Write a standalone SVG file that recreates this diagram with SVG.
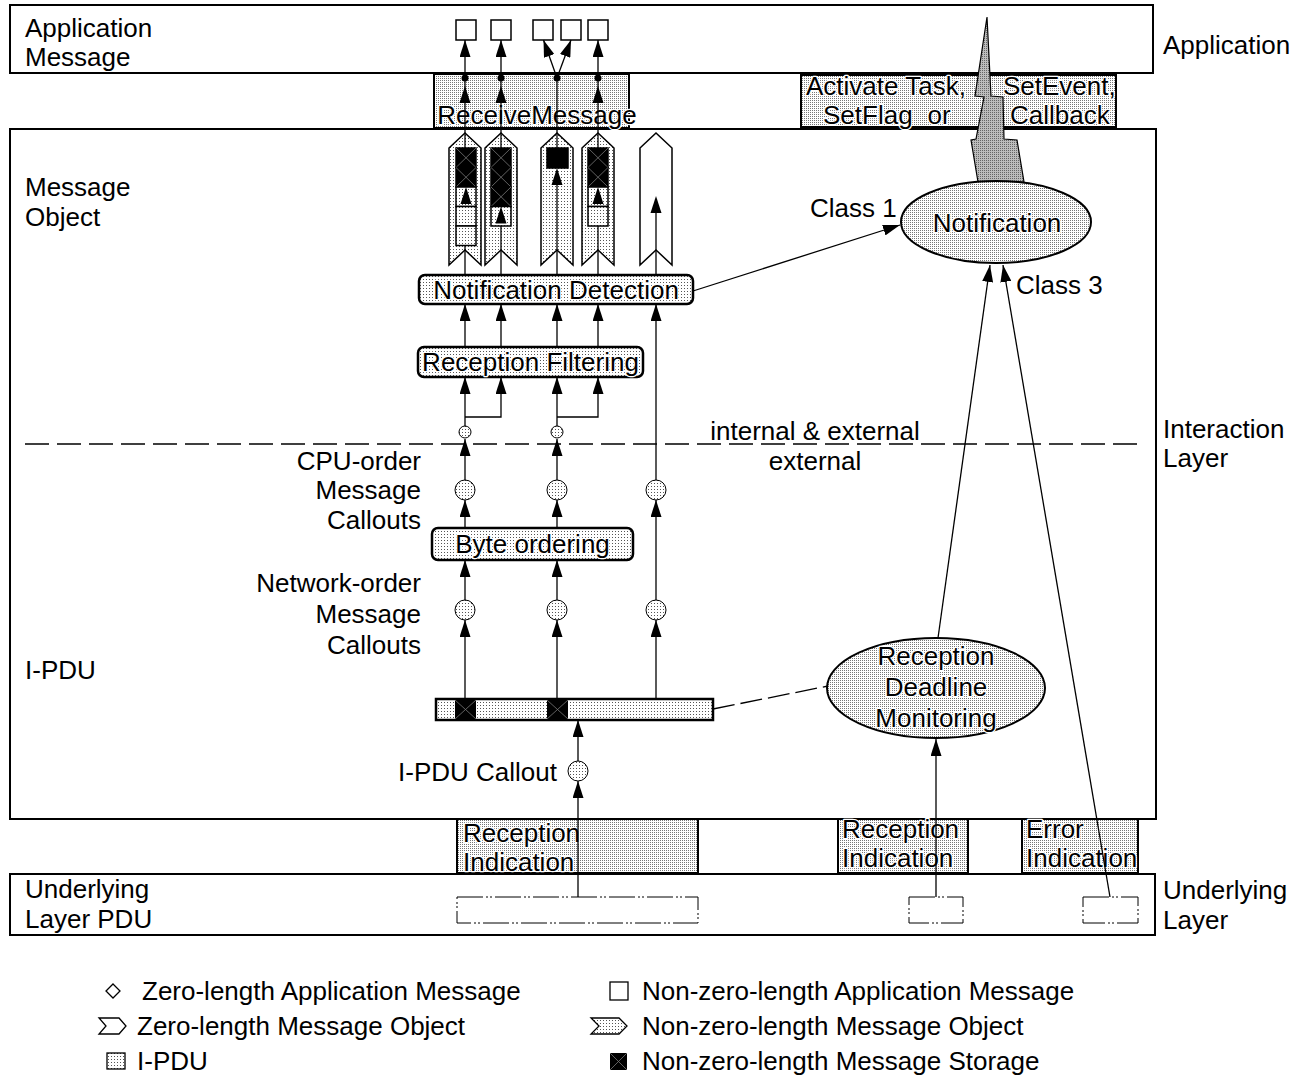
<svg xmlns="http://www.w3.org/2000/svg" xmlns:xlink="http://www.w3.org/1999/xlink" width="1300" height="1077" viewBox="0 0 1300 1077">
  <style>
    text { font-family: "Liberation Sans", Arial, sans-serif; font-size: 26px; fill: #000; }
    .ko { paint-order: stroke; stroke: #fff; stroke-width: 2.5px; stroke-linejoin: round; }
    .mid { text-anchor: middle; }
    .end { text-anchor: end; }
    .frame { fill: #fff; stroke: #000; stroke-width: 2; }
    .api { fill: url(#dotsDense); stroke: #000; stroke-width: 2; }
    .pdu { fill: none; stroke: #000; stroke-width: 1; stroke-dasharray: 26 3 2 2 2 3; }
    .msg { fill: #fff; stroke: #000; stroke-width: 1.5; }
    .mobj { fill: url(#dots); stroke: #000; stroke-width: 1.5; stroke-linejoin: miter; }
    .mobj0 { fill: #fff; stroke: #000; stroke-width: 1.5; }
    .cell { fill: url(#dots); stroke: #000; stroke-width: 1.5; }
    .store { fill: #000; stroke: #000; stroke-width: 1.5; }
    .x { stroke: #777; stroke-width: 0.8; fill: none; }
    .proc { fill: url(#dots); stroke: #000; stroke-width: 2.5; }
    .ell { fill: url(#dotsDense); stroke: #000; stroke-width: 2; }
    .callout { fill: url(#dots); stroke: #000; stroke-width: 1; }
    .ln { fill: none; stroke: #000; stroke-width: 1.3; }
    .arr { marker-end: url(#ah); }
  </style>
  <defs>
    <pattern id="dots" width="3" height="3" patternUnits="userSpaceOnUse">
      <rect width="3" height="3" fill="#fff"/>
      <rect width="1" height="1" fill="#555"/>
    </pattern>
    <pattern id="dotsDense" width="2" height="2" patternUnits="userSpaceOnUse">
      <rect width="2" height="2" fill="#fff"/>
      <rect width="1" height="1" fill="#777"/>
    </pattern>
    <pattern id="dotsDark" width="2" height="2" patternUnits="userSpaceOnUse">
      <rect width="2" height="2" fill="#bdbdbd"/>
      <rect width="1" height="1" fill="#666"/>
    </pattern>
    <marker id="ah" viewBox="0 0 17 11" refX="17" refY="5.5" markerWidth="17" markerHeight="11" markerUnits="userSpaceOnUse" orient="auto">
      <path d="M0,0 L17,5.5 L0,11 Z" fill="#000"/>
    </marker>
    <!-- free-standing upward arrowhead, tip at origin -->
    <path id="up" d="M0,0 L-5.5,17 L5.5,17 Z" fill="#000"/>
    <!-- message storage cell with cross -->
    <g id="stcell">
      <rect x="0" y="0" width="20" height="19.5" class="store"/>
      <path d="M0,0 L20,19.5 M20,0 L0,19.5" class="x"/>
    </g>
  </defs>

  <rect width="1300" height="1077" fill="#fff"/>

  <!-- layer frames -->
  <g id="layer-application">
    <rect x="10" y="5" width="1143" height="68" class="frame"/>
    <text x="25" y="37">Application</text>
    <text x="25" y="66.2">Message</text>
  </g>
  <g id="layer-interaction">
    <rect x="10" y="129" width="1146" height="690" class="frame"/>
    <text x="25" y="196">Message</text>
    <text x="25" y="226">Object</text>
    <text x="25" y="679">I-PDU</text>
  </g>
  <g id="layer-underlying">
    <rect x="10" y="874" width="1145" height="61" class="frame"/>
    <text x="25" y="898">Underlying</text>
    <text x="25" y="928">Layer PDU</text>
    <rect x="457" y="897" width="241" height="26" class="pdu"/>
    <rect x="909" y="897" width="54" height="26" class="pdu"/>
    <rect x="1083" y="897" width="55" height="26" class="pdu"/>
  </g>

  <!-- layer names -->
  <g id="layer-names">
    <text x="1163" y="54">Application</text>
    <text x="1163" y="437.5">Interaction</text>
    <text x="1163" y="466.7">Layer</text>
    <text x="1163" y="899">Underlying</text>
    <text x="1163" y="929">Layer</text>
  </g>

  <!-- service interfaces between layers -->
  <g id="api-receive-message">
    <rect x="434" y="74" width="195" height="54" class="api"/>
    <text x="537" y="124" class="mid ko">ReceiveMessage</text>
  </g>
  <g id="api-notification">
    <rect x="801" y="75" width="315" height="52" class="api"/>
    <text x="806" y="94.5" class="ko">Activate Task,</text>
    <text x="1003" y="94.5" class="ko">SetEvent,</text>
    <text x="823" y="123.7" class="ko">SetFlag<tspan dx="15">or</tspan></text>
    <text x="1010" y="123.7" class="ko">Callback</text>
  </g>
  <g id="api-rx-indication">
    <rect x="457" y="819" width="241" height="54" class="api"/>
    <text x="463" y="842" class="ko">Reception</text>
    <text x="463" y="871.2" class="ko">Indication</text>
  </g>
  <g id="api-rx-indication-2">
    <rect x="838" y="819" width="130" height="54" class="api"/>
    <text x="842" y="837.5" class="ko">Reception</text>
    <text x="842" y="866.7" class="ko">Indication</text>
  </g>
  <g id="api-error-indication">
    <rect x="1022" y="819" width="116" height="54" class="api"/>
    <text x="1026" y="837.5" class="ko">Error</text>
    <text x="1026" y="866.7" class="ko">Indication</text>
  </g>

  <!-- application messages -->
  <g id="app-messages">
    <rect x="456" y="20" width="20" height="20" class="msg"/>
    <rect x="491" y="20" width="20" height="20" class="msg"/>
    <rect x="533" y="20" width="20" height="20" class="msg"/>
    <rect x="561" y="20" width="20" height="20" class="msg"/>
    <rect x="588" y="20" width="20" height="20" class="msg"/>
  </g>

  <!-- message object outlines -->
  <g id="message-objects">
    <path d="M449,148 L465,133 L481,148 L481,265 L465,250 L449,265 Z" class="mobj"/>
    <path d="M485,148 L501,133 L517,148 L517,265 L501,250 L485,265 Z" class="mobj"/>
    <path d="M541,148 L557,133 L573,148 L573,265 L557,250 L541,265 Z" class="mobj"/>
    <path d="M582,148 L598,133 L614,148 L614,265 L598,250 L582,265 Z" class="mobj"/>
    <path d="M640,148 L656,133 L672,148 L672,265 L656,250 L640,265 Z" class="mobj0"/>
  </g>

  <!-- internal / external boundary -->
  <g id="boundary">
    <path d="M25,444 H1140" fill="none" stroke="#000" stroke-width="1.3" stroke-dasharray="24 8"/>
    <text x="815" y="440" class="mid">internal &amp; external</text>
    <text x="815" y="470" class="mid">external</text>
  </g>

  <!-- connectors -->
  <g id="connectors">
    <!-- column 1 -->
    <path d="M465,148 V40" class="ln arr"/>
    <path d="M465,275 V245" class="ln"/>
    <path d="M465,347 V304" class="ln arr"/>
    <path d="M465,426 V377" class="ln arr"/>
    <path d="M465,417 H501 V377" class="ln arr"/>
    <path d="M465,480 V439" class="ln arr"/>
    <path d="M465,528 V500" class="ln arr"/>
    <path d="M465,600 V560" class="ln arr"/>
    <path d="M465,699 V620" class="ln arr"/>
    <!-- column 2 -->
    <path d="M501,148 V40" class="ln arr"/>
    <path d="M501,275 V226" class="ln"/>
    <path d="M501,347 V304" class="ln arr"/>
    <!-- column 3 -->
    <path d="M557,148 V78" class="ln"/>
    <path d="M557,78 L543.5,40" class="ln arr"/>
    <path d="M557,78 L571,40" class="ln arr"/>
    <path d="M557,275 V184" class="ln"/>
    <path d="M557,347 V304" class="ln arr"/>
    <path d="M557,426 V377" class="ln arr"/>
    <path d="M557,417 H598 V377" class="ln arr"/>
    <path d="M557,480 V439" class="ln arr"/>
    <path d="M557,528 V500" class="ln arr"/>
    <path d="M557,600 V560" class="ln arr"/>
    <path d="M557,699 V620" class="ln arr"/>
    <!-- column 4 -->
    <path d="M598,148 V40" class="ln arr"/>
    <path d="M598,275 V226" class="ln"/>
    <path d="M598,347 V304" class="ln arr"/>
    <!-- column 5 (zero-length message) -->
    <path d="M656,699 V620" class="ln arr"/>
    <path d="M656,600 V500" class="ln arr"/>
    <path d="M656,480 V304" class="ln arr"/>
    <path d="M656,275 V212" class="ln"/>
    <!-- mid-line arrowheads -->
    <use xlink:href="#up" x="465" y="86"/>
    <use xlink:href="#up" x="501" y="86"/>
    <use xlink:href="#up" x="598" y="86"/>
    <use xlink:href="#up" x="656" y="196"/>
    <!-- fan-out dots -->
    <circle cx="465" cy="78" r="3.5"/>
    <circle cx="501" cy="78" r="3.5"/>
    <circle cx="557" cy="78" r="3.5"/>
    <circle cx="598" cy="78" r="3.5"/>
    <!-- notification paths -->
    <path d="M693,291 L900,225" class="ln arr"/>
    <path d="M938,638 L990,265" class="ln arr"/>
    <path d="M1110,897 L1003,265" class="ln arr"/>
    <!-- reception paths -->
    <path d="M936,897 V739" class="ln arr"/>
    <path d="M578,897 V781" class="ln arr"/>
    <path d="M578,761 V720" class="ln arr"/>
    <path d="M713,709 L828,686" class="ln" stroke-dasharray="22 6"/>
  </g>

  <!-- message storage queues -->
  <g id="queue-1">
    <use xlink:href="#stcell" x="456" y="148"/>
    <use xlink:href="#stcell" x="456" y="167.5"/>
    <rect x="456" y="187" width="20" height="19.5" class="cell"/>
    <rect x="456" y="206.5" width="20" height="19.5" class="cell"/>
    <rect x="456" y="226" width="20" height="19.5" class="cell"/>
    <use xlink:href="#up" x="466" y="187"/>
  </g>
  <g id="queue-2">
    <use xlink:href="#stcell" x="491" y="148"/>
    <use xlink:href="#stcell" x="491" y="167.5"/>
    <use xlink:href="#stcell" x="491" y="187"/>
    <rect x="491" y="206.5" width="20" height="19.5" class="cell"/>
    <use xlink:href="#up" x="501" y="206.5"/>
  </g>
  <g id="queue-3">
    <rect x="547" y="148" width="21" height="20" class="store"/>
    <use xlink:href="#up" x="557" y="168"/>
  </g>
  <g id="queue-4">
    <use xlink:href="#stcell" x="588" y="148"/>
    <use xlink:href="#stcell" x="588" y="167.5"/>
    <rect x="588" y="187" width="20" height="19.5" class="cell"/>
    <rect x="588" y="206.5" width="20" height="19.5" class="cell"/>
    <use xlink:href="#up" x="598" y="187"/>
  </g>

  <!-- processing steps -->
  <g id="notification-detection">
    <rect x="419" y="275" width="274" height="29" rx="6" class="proc"/>
    <text x="556" y="299" class="mid ko">Notification Detection</text>
  </g>
  <g id="reception-filtering">
    <rect x="418" y="347" width="225" height="30" rx="6" class="proc"/>
    <text x="530.5" y="371" class="mid ko">Reception Filtering</text>
  </g>
  <g id="byte-ordering">
    <rect x="432" y="528" width="201" height="32" rx="6" class="proc"/>
    <text x="532.5" y="553" class="mid ko">Byte ordering</text>
  </g>

  <!-- message callouts -->
  <g id="callouts">
    <circle cx="465" cy="432" r="6" class="callout"/>
    <circle cx="557" cy="432" r="6" class="callout"/>
    <circle cx="465" cy="490" r="10" class="callout"/>
    <circle cx="557" cy="490" r="10" class="callout"/>
    <circle cx="656" cy="490" r="10" class="callout"/>
    <circle cx="465" cy="610" r="10" class="callout"/>
    <circle cx="557" cy="610" r="10" class="callout"/>
    <circle cx="656" cy="610" r="10" class="callout"/>
    <circle cx="578" cy="771" r="10" class="callout"/>
    <text x="421" y="470" class="end">CPU-order</text>
    <text x="421" y="499.2" class="end">Message</text>
    <text x="421" y="529" class="end">Callouts</text>
    <text x="421" y="592" class="end">Network-order</text>
    <text x="421" y="623" class="end">Message</text>
    <text x="421" y="654" class="end">Callouts</text>
    <text x="557" y="781" class="end">I-PDU Callout</text>
  </g>

  <!-- I-PDU buffer -->
  <g id="ipdu">
    <rect x="436" y="699" width="277" height="21" fill="url(#dots)" stroke="#000" stroke-width="2.5"/>
    <rect x="455" y="700" width="21" height="19" fill="#000"/>
    <path d="M455,700 L476,719 M476,700 L455,719" class="x"/>
    <rect x="547" y="700" width="21" height="19" fill="#000"/>
    <path d="M547,700 L568,719 M568,700 L547,719" class="x"/>
  </g>

  <!-- deadline monitoring -->
  <g id="deadline-monitoring">
    <ellipse cx="936" cy="688" rx="109" ry="50" class="ell"/>
    <text x="936" y="665" class="mid ko">Reception</text>
    <text x="936" y="696" class="mid ko">Deadline</text>
    <text x="936" y="727" class="mid ko">Monitoring</text>
  </g>

  <!-- notification -->
  <g id="notification">
    <path d="M987,17 L991,96 L1003,97 L1004,139 L1017,140 L1024,182 L978,182 L971,140 L976,139 L984,97 L975,96 Z" fill="url(#dotsDark)" stroke="#000" stroke-width="1.2"/>
    <ellipse cx="996" cy="222" rx="95" ry="41" class="ell"/>
    <text x="997" y="232" class="mid ko">Notification</text>
    <text x="810" y="217">Class 1</text>
    <text x="1016" y="294">Class 3</text>
  </g>

  <!-- legend -->
  <g id="legend">
    <path d="M113,984 L120,991 L113,998 L106,991 Z" fill="#fff" stroke="#000" stroke-width="1.3"/>
    <text x="142" y="1000">Zero-length Application Message</text>
    <path d="M99,1018 L119,1018 L126,1026 L119,1034 L99,1034 L106,1026 Z" fill="#fff" stroke="#000" stroke-width="1.3"/>
    <text x="137" y="1035">Zero-length Message Object</text>
    <rect x="107" y="1053" width="18" height="16" fill="url(#dots)" stroke="#000" stroke-width="1.3"/>
    <text x="137" y="1070">I-PDU</text>
    <rect x="610" y="982" width="18" height="18" fill="#fff" stroke="#000" stroke-width="1.3"/>
    <text x="642" y="1000">Non-zero-length Application Message</text>
    <path d="M591,1018 L619,1018 L627,1026 L619,1034 L591,1034 L599,1026 Z" fill="url(#dots)" stroke="#000" stroke-width="1.3"/>
    <text x="642" y="1035">Non-zero-length Message Object</text>
    <rect x="610" y="1053" width="17" height="17" fill="#000"/>
    <path d="M610,1053 L627,1070 M627,1053 L610,1070" class="x"/>
    <text x="642" y="1070">Non-zero-length Message Storage</text>
  </g>
</svg>
